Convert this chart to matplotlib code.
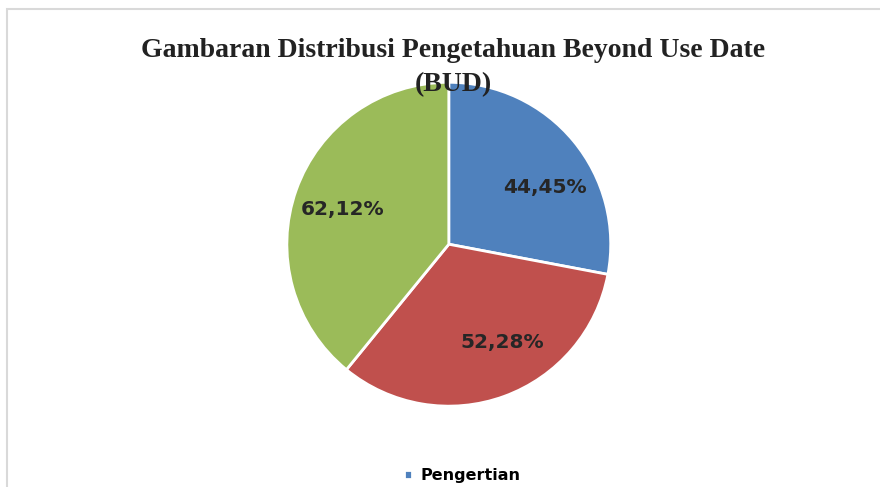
import numpy as np
import matplotlib.pyplot as plt
from matplotlib.patches import Rectangle

# Data
categories = ["Pengertian", "Penentuan", "Penyimpanan"]
values = [44.45, 52.28, 62.12]
colors = ["#4F81BD", "#C0504D", "#9BBB59"]
title = "Gambaran Distribusi Pengetahuan Beyond Use Date\n(BUD)"

# small angular nudges (degrees) so labels sit where the original "best fit" put them
label_nudge = [-9, 8.5, 1.5]

fig = plt.figure(figsize=(8.8, 4.87), dpi=100)

# chart area border (light gray, cut at right/bottom)
fig.patches.append(Rectangle((7 / 880, -0.1), 2.0, 1 - 9 / 487 + 0.1,
                             transform=fig.transFigure, fill=False,
                             edgecolor="#D9D9D9", linewidth=1.5))

ax = fig.add_axes([0.326, 0.166, 0.368, 0.665])
wedges, _ = ax.pie(values, colors=colors, startangle=90, counterclock=False,
                   wedgeprops=dict(edgecolor="white", linewidth=2))

for w, v, nudge in zip(wedges, values, label_nudge):
    ang = np.deg2rad((w.theta1 + w.theta2) / 2 + nudge)
    ax.text(0.69 * np.cos(ang), 0.69 * np.sin(ang), f"{v:.2f}%".replace(".", ","),
            ha="center", va="center", fontsize=14.5, fontweight="bold",
            color="#262626", family="DejaVu Sans")

ax.set_xlim(-1, 1)
ax.set_ylim(-1, 1)
ax.set_aspect("equal")

fig.text(0.515, 0.922, title, ha="center", va="top", fontsize=20,
         family="Liberation Serif", fontweight="bold", color="#222222",
         linespacing=1.5)

# only the first legend entry is visible; the rest falls below the picture
fig.legend(wedges[:1], categories[:1], loc="upper center", bbox_to_anchor=(0.525, 0.062),
           frameon=False, handlelength=0.55, handleheight=0.55, handletextpad=0.5,
           borderpad=0.2, prop=dict(size=11.5, weight="bold", family="DejaVu Sans"))

fig.savefig("out.png", dpi=100, facecolor="white")
